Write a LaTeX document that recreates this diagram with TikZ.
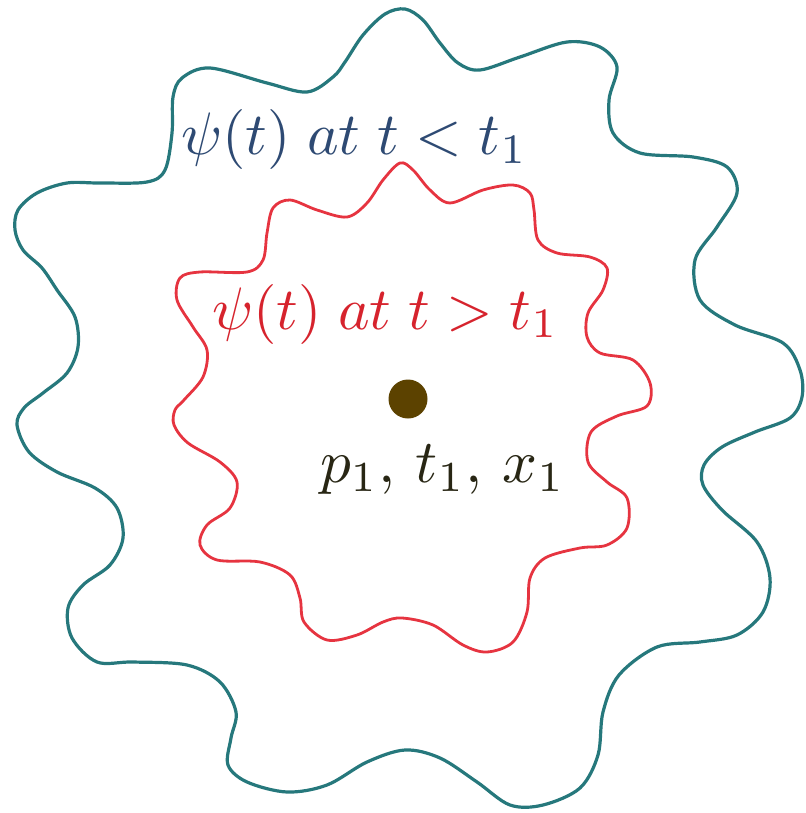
\documentclass[tikz,border=0pt]{standalone}
\usepackage{amsmath}
\definecolor{outerc}{RGB}{38,120,124}
\definecolor{bluetext}{RGB}{46,74,115}
\definecolor{redc}{RGB}{230,52,64}
\definecolor{redtext}{RGB}{214,35,45}
\definecolor{dotc}{RGB}{92,66,0}
\definecolor{ptext}{RGB}{40,38,20}
\tikzset{
  wave/.style={line width=3.2pt, line join=round},
  lab/.style={inner sep=0pt, outer sep=0pt, scale=6, transform shape, anchor=base west}
}
\begin{document}
\begin{tikzpicture}[x=1pt,y=-1pt]
\useasboundingbox (0,0) rectangle (805,813);
% outer wave
\draw[wave, outerc] plot[smooth cycle, tension=0.55] coordinates {
(385,14) (405,9) (423,20) (440,43) (458,63) (480,70) (520,57) (567,42) (600,47) (617,67) (609,100) (613,133) (640,153) (693,157) (727,167) (737,193) (717,227) (695,260) (700,300) (735,325) (783,343) (800,370) (802,397) (790,418) (755,432) (722,447) (704,465) (703,485) (722,510) (757,542) (770,578) (763,612) (737,635) (700,642) (657,647) (619,675) (603,712) (598,755) (580,788) (543,805) (510,805) (477,782) (440,758) (405,750) (367,762) (327,785) (287,792) (247,782) (228,765) (231,738) (236,712) (220,682) (187,665) (133,662) (97,662) (72,638) (68,608) (83,585) (110,565) (123,538) (117,508) (95,488) (57,472) (29,452) (17,425) (24,408) (43,393) (67,373) (78,347) (75,317) (57,290) (42,268) (23,250) (15,230) (18,210) (37,193) (67,183) (100,183) (147,182) (165,170) (172,133) (173,97) (182,78) (210,68) (267,83) (307,92) (333,77) (345,62) (363,35)
};
% inner wave
\draw[wave, redc, line width=2.8pt] plot[smooth cycle, tension=0.55] coordinates {
(400,163) (413,170) (430,190) (450,203) (483,190) (513,185) (530,193) (534,210) (538,240) (557,253) (590,257) (607,268) (603,290) (588,313) (587,337) (600,353) (633,360) (650,383) (647,406) (617,416) (591,432) (588,462) (607,482) (627,498) (627,528) (607,545) (580,548) (545,558) (530,578) (527,612) (513,642) (487,652) (463,645) (433,625) (402,618) (383,622) (357,635) (327,640) (304,622) (300,598) (290,575) (260,562) (217,560) (200,545) (207,525) (230,508) (237,482) (220,462) (188,443) (174,425) (175,410) (184,400) (203,377) (207,350) (193,327) (177,300) (180,278) (200,272) (247,272) (263,260) (267,233) (273,208) (290,200) (317,210) (347,217) (367,203) (383,180)
};
% dot
\node[circle, fill=dotc, minimum size=39pt, inner sep=0pt] (dot) at (408,399) {};
% labels
\node[lab, text=bluetext] (outerlab) at (181,155) {$\psi(t)\;at\;t<t_1$};
\node[lab, text=redtext] (innerlab) at (212,329) {$\psi(t)\;at\;t>t_1$};
\node[lab, text=ptext, scale=1.02] (plab) at (320,482) {$p_1,\,t_1,\,x_1$};
\end{tikzpicture}
\end{document}
